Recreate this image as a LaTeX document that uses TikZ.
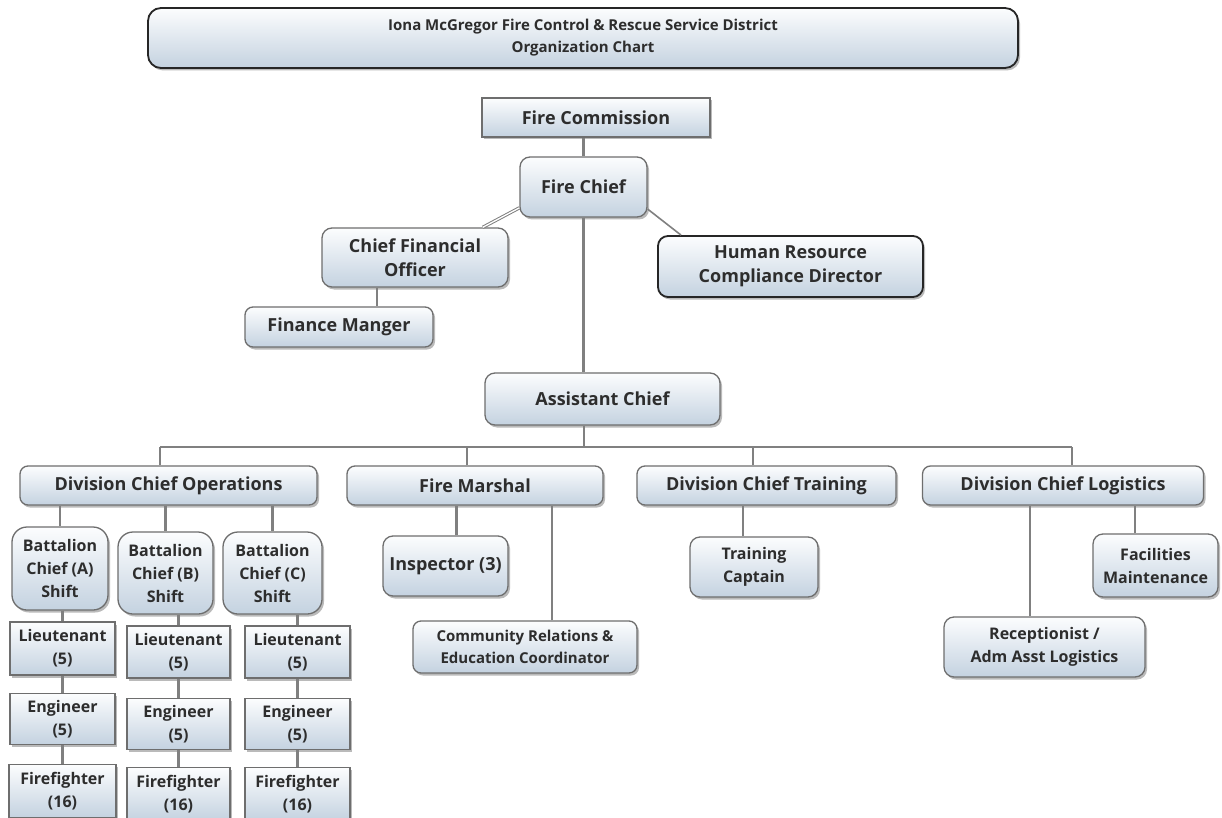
\documentclass[tikz,border=0pt]{standalone}
\usepackage{fontspec}
\setmainfont{Open Sans}
\usetikzlibrary{positioning,shadows,calc}

\definecolor{boxline}{RGB}{110,110,110}
\definecolor{boxtop}{RGB}{252,253,254}
\definecolor{boxbot}{RGB}{196,210,224}
\definecolor{linkgray}{RGB}{128,128,128}
\definecolor{txt}{RGB}{45,45,45}

\begin{document}
\begin{tikzpicture}[
    x=1pt, y=-1pt,
    box/.style={draw=boxline, line width=1.3pt, rounded corners=8pt,
                top color=boxtop, bottom color=boxbot, text=txt, align=center,
                inner sep=1pt, font=\bfseries\fontsize{16}{23}\selectfont,
                drop shadow={shadow xshift=2pt, shadow yshift=-2.5pt, opacity=.45, fill=black!60}},
    big/.style={font=\bfseries\fontsize{18}{24}\selectfont},
    sqbox/.style={box, sharp corners},
    darkbox/.style={box, draw=black!85, line width=1.8pt},
    sz/.style 2 args={minimum width=#1pt, minimum height=#2pt},
    link/.style={draw=linkgray, line width=2.2pt},
  ]
    \fill[white] (0,0) rectangle (1222,818);
    \useasboundingbox (0,0) rectangle (1222,818);

    % top of the chart
    \node[darkbox, sz={870}{60}, rounded corners=13pt, font=\bfseries\fontsize{15}{22}\selectfont] (title) at (583,38)
      {Iona McGregor Fire Control \& Rescue Service District\\Organization Chart};
    \node[sqbox, big, sz={228}{39}] (fc) at (596,117.5) {Fire Commission};
    \node[box, big, sz={127}{60}, rounded corners=10pt] (chief) at (583.5,187) {Fire Chief};
    \node[box, big, sz={186}{59}, rounded corners=10pt] (cfo) at (415,257.5) {Chief Financial\\Officer};
    \node[darkbox, big, sz={265}{61}, rounded corners=10pt] (hr) at (790.5,266.5) {Human Resource\\Compliance Director};
    \node[box, big, sz={188}{40}] (fin) at (339,327) {Finance Manger};
    \node[box, big, sz={235}{52}, rounded corners=10pt] (asst) at (602.5,399) {Assistant Chief};

    % divisions
    \node[box, big, sz={297}{39}] (ops) at (168.5,485.5) {Division Chief Operations};
    \node[box, big, sz={256}{39}] (fm) at (475,485.5) {Fire Marshal};
    \node[box, big, sz={259}{39}] (dct) at (766.5,485.5) {Division Chief Training};
    \node[box, big, sz={281}{39}] (dcl) at (1063,485.5) {Division Chief Logistics};

    % shifts
    \node[box, sz={96}{83}, rounded corners=15pt] (batA) at (60,568.5) {Battalion\\Chief (A)\\Shift};
    \node[box, sz={95}{82}, rounded corners=15pt] (batB) at (165.5,573) {Battalion\\Chief (B)\\Shift};
    \node[box, sz={99}{82}, rounded corners=15pt] (batC) at (272.5,573) {Battalion\\Chief (C)\\Shift};
    \node[sqbox, sz={105}{53}] (ltA) at (62.5,648.5) {Lieutenant\\(5)};
    \node[sqbox, sz={103}{52}] (ltB) at (178.5,652) {Lieutenant\\(5)};
    \node[sqbox, sz={105}{52}] (ltC) at (297.5,652) {Lieutenant\\(5)};
    \node[sqbox, sz={105}{51}, below=17pt of ltA] (engA) {Engineer\\(5)};
    \node[sqbox, sz={103}{51}, below=19pt of ltB] (engB) {Engineer\\(5)};
    \node[sqbox, sz={105}{51}, below=19pt of ltC] (engC) {Engineer\\(5)};
    \node[sqbox, sz={107}{53}, below=19pt of engA] (ffA) {Firefighter\\(16)};
    \node[sqbox, sz={103}{53}, below=17pt of engB] (ffB) {Firefighter\\(16)};
    \node[sqbox, sz={105}{53}, below=17pt of engC] (ffC) {Firefighter\\(16)};

    % other staff
    \node[box, big, sz={125}{60}, rounded corners=10pt] (insp) at (445.5,566) {Inspector (3)};
    \node[box, sz={224}{52}, font=\bfseries\fontsize{15}{22}\selectfont] (comm) at (525,647)
      {Community Relations \&\\Education Coordinator};
    \node[box, sz={128}{60}, rounded corners=10pt] (tcap) at (754,567) {Training\\Captain};
    \node[box, sz={125}{63}, rounded corners=10pt] (fac) at (1155.5,565.5) {Facilities\\Maintenance};
    \node[box, sz={201}{60}, rounded corners=10pt] (rec) at (1044.5,647) {Receptionist /\\Adm Asst Logistics};

    % connectors
    \draw[link] (chief.north) -- (chief.north |- fc.south);
    \draw[link, line width=1pt, double=white, double distance=1.3pt] (chief.198) -- (cfo.24);
    \draw[link, line width=1.6pt] (chief.-19) -- (hr.164);
    \coordinate (cf) at ($(cfo.south)!.5!(fin.north)$);
    \draw[link] (cf |- cfo.south) -- (cf |- fin.north);
    \draw[link] (chief.south) -- (chief.south |- asst.north);

    \coordinate (bus) at (584,447);
    \coordinate (busL) at (160,447);
    \coordinate (busR) at (1072,447);
    \draw[link] (bus |- asst.south) -- (bus);
    \draw[link] (busL) -- (busR);
    \foreach \n/\d in {ops/-8.5, fm/-8, dct/-13.5, dcl/9}
      \draw[link] ($(\n.north)+(\d,0)$) -- ($(\n.north |- bus)+(\d,0)$);

    \foreach \c in {A,B,C}{
      \draw[link] (bat\c.north |- ops.south) -- (bat\c.north);
      \draw[link] (lt\c.north |- bat\c.south) -- (lt\c.north);
      \draw[link] (lt\c.south) -- (eng\c.north);
      \draw[link] (eng\c.south) -- (ff\c.north);
    }

    \draw[link] ($(insp.north)+(11,0)$) -- ($(insp.north |- fm.south)+(11,0)$);
    \draw[link] ($(comm.north)+(27,0)$) -- ($(comm.north |- fm.south)+(27,0)$);
    \draw[link] ($(tcap.north)+(-11,0)$) -- ($(tcap.north |- dct.south)+(-11,0)$);
    \draw[link] ($(fac.north)+(-20.5,0)$) -- ($(fac.north |- dcl.south)+(-20.5,0)$);
    \draw[link] ($(rec.north)+(-14.5,0)$) -- ($(rec.north |- dcl.south)+(-14.5,0)$);
\end{tikzpicture}
\end{document}
